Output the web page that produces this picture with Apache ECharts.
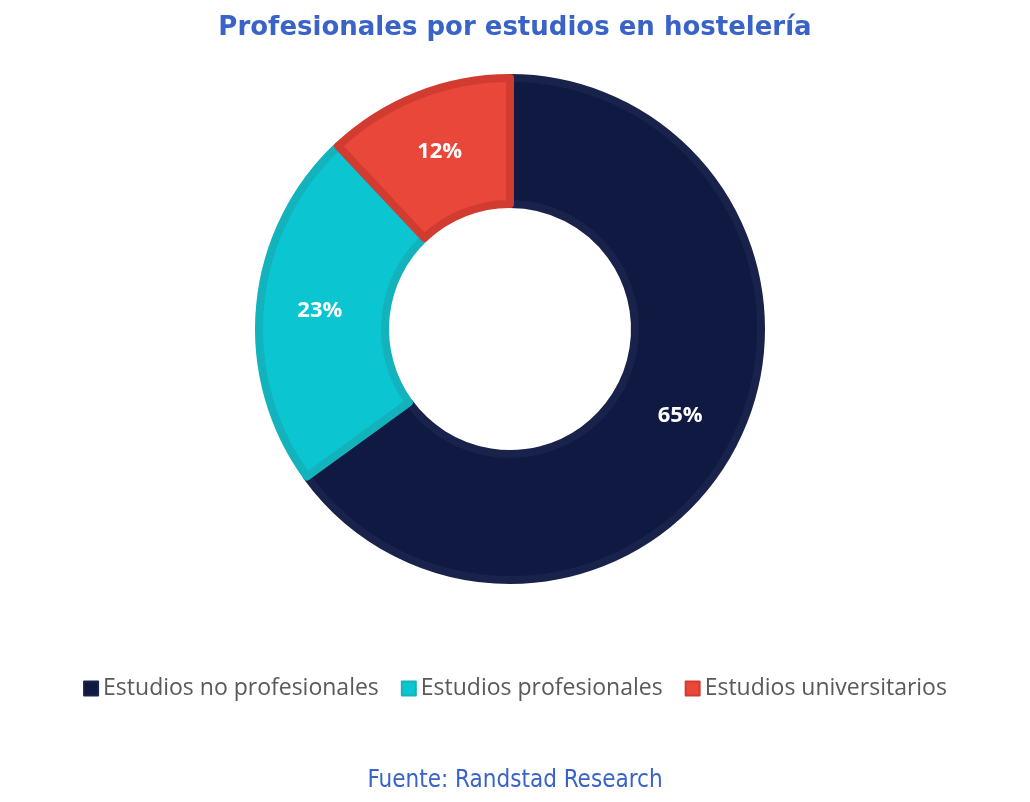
<!DOCTYPE html>
<html><head><meta charset="utf-8">
<script src="https://cdn.jsdelivr.net/npm/echarts@6/dist/echarts.min.js"></script>
<style>html,body{margin:0;padding:0;background:#fff}#c{width:1030px;height:802px}</style>
</head><body><div id="c"></div>
<script>
const categories = ["Estudios no profesionales", "Estudios profesionales", "Estudios universitarios"];
const values = [65, 23, 12];
const colors = ["#0f1941", "#0bc5d0", "#e8473a"];
const borders = ["#18224a", "#13b3bd", "#d23c30"];
const chart = echarts.init(document.getElementById('c'));
chart.setOption({
  animation: false,
  title: [{
    text: "Profesionales por estudios en hostelería", left: 'center', top: 10,
    textStyle: {color: '#3a63c8', fontSize: 26, fontWeight: 'bold', fontFamily: 'DejaVu Sans'}
  }, {
    text: "Fuente: Randstad Research", left: 'center', top: 764,
    textStyle: {color: '#3a63c8', fontSize: 24, fontWeight: 'normal', fontFamily: 'DejaVu Sans Condensed'}
  }],
  legend: {
    top: 672, left: 'center', itemWidth: 14, itemHeight: 14, itemGap: 22, icon: 'rect',
    textStyle: {color: '#595959', fontSize: 23, fontFamily: 'Open Sans'},
    data: categories
  },
  series: [{
    type: 'pie', center: [510, 329], radius: [125, 251], startAngle: 90, clockwise: true,
    label: {position: 'inside', formatter: '{c}%', color: '#fff', fontSize: 22, fontWeight: 'bold', fontFamily: 'Open Sans'},
    labelLine: {show: false},
    data: categories.map((n, i) => ({
      name: n, value: values[i],
      itemStyle: {color: colors[i], borderColor: borders[i], borderWidth: 8}
    }))
  }]
});
</script></body></html>
